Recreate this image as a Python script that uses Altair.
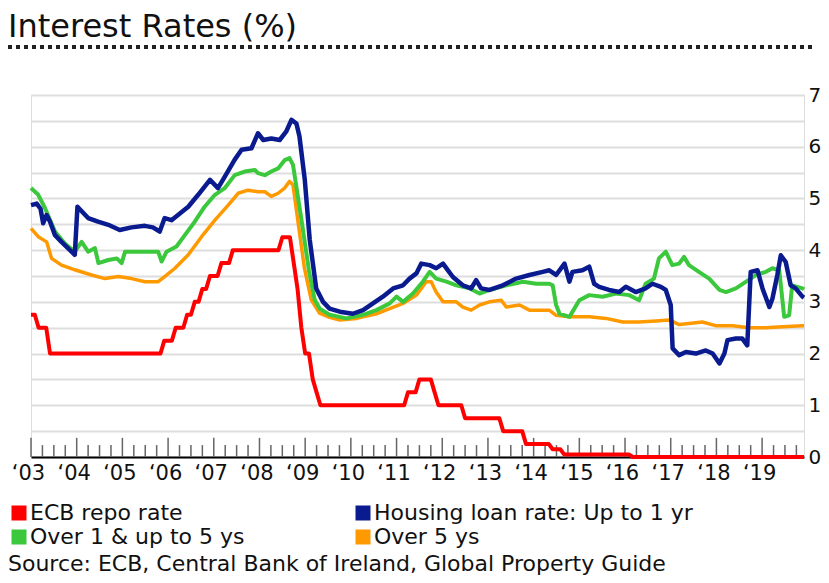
import altair as alt
import pandas as pd

FONT = "DejaVu Sans"

title_text = "Interest Rates (%)"
source_text = "Source: ECB, Central Bank of Ireland, Global Property Guide"

series_names = ["ECB repo rate", "Housing loan rate: Up to 1 yr",
                "Over 1 & up to 5 ys", "Over 5 ys"]
series_colors = ["#ff0000", "#0a1a8f", "#3cc83c", "#ff9900"]

first_year = 2003
last_month = 203          # months since Jan 2003 (Dec 2019)

# ---- ECB repo rate (months since Jan 2003, %) ----
ecb_month = [0, 1, 2, 4, 5, 34, 35, 37, 38, 40, 41, 42, 43, 44, 45, 46, 47, 49, 50, 52,
             53, 65, 66, 68, 69, 70, 71, 72, 73, 74, 75, 76, 98, 99, 101, 102, 105, 106,
             107, 113, 114, 123, 124, 129, 130, 136, 137, 139, 140, 157, 158, 203]
ecb_rate = [2.75, 2.75, 2.5, 2.5, 2.0, 2.0, 2.25, 2.25, 2.5, 2.5, 2.75, 2.75, 3.0, 3.0,
            3.25, 3.25, 3.5, 3.5, 3.75, 3.75, 4.0, 4.0, 4.25, 4.25, 3.75, 3.25, 2.5, 2.0,
            2.0, 1.5, 1.25, 1.0, 1.0, 1.25, 1.25, 1.5, 1.5, 1.25, 1.0, 1.0, 0.75, 0.75,
            0.5, 0.5, 0.25, 0.25, 0.15, 0.15, 0.05, 0.05, 0.0, 0.0]

# ---- Housing loan rate: up to 1 yr ----
short_month = [0, 1.5, 2.5, 3.2, 4.1, 5, 6.3, 8, 11.5, 12.2, 15, 17.6, 20.3, 23.3, 26.4,
               29.9, 32, 33.8, 35.1, 36.9, 38.6, 41.3, 43.9, 47, 49.1, 50.9, 53.5, 55.3,
               57.9, 59.6, 61, 63.1, 65.3, 67, 68.4, 69.7, 70.5, 71.9, 73.2, 74.9, 76.7,
               78.4, 81.1, 84.5, 87.2, 89.8, 92.4, 95.1, 97.7, 99.4, 101.2, 102.5, 104.7,
               106.4, 108.2, 109.5, 110.8, 113.4, 115.6, 116.9, 118.2, 120.4, 123.9, 127.4,
               130.9, 134.4, 136.1, 137.9, 140.1, 141.4, 142.2, 144.8, 146.6, 147.9, 149.2,
               151.8, 154.5, 156.2, 158.8, 161.4, 163.2, 165.4, 166.7, 168, 168.5, 170.2,
               172, 174.6, 177.2, 179, 180.8, 182.1, 182.9, 185.1, 186.8, 188.1, 189,
               190.8, 192.1, 193.9, 194.7, 196, 196.9, 198.2, 199.5, 200.8, 202.6, 203]
short_rate = [4.87, 4.9, 4.8, 4.52, 4.68, 4.55, 4.29, 4.16, 3.91, 4.84, 4.62, 4.55, 4.49,
              4.39, 4.44, 4.47, 4.44, 4.36, 4.62, 4.58, 4.68, 4.84, 5.07, 5.36, 5.2, 5.42,
              5.75, 5.94, 5.97, 6.26, 6.13, 6.16, 6.13, 6.29, 6.52, 6.45, 6.2, 5.36, 4.2,
              3.26, 3.0, 2.87, 2.81, 2.77, 2.84, 2.97, 3.1, 3.26, 3.32, 3.45, 3.55, 3.74,
              3.71, 3.65, 3.74, 3.61, 3.48, 3.32, 3.26, 3.42, 3.26, 3.23, 3.32, 3.45, 3.52,
              3.58, 3.61, 3.52, 3.74, 3.39, 3.58, 3.61, 3.68, 3.35, 3.29, 3.23, 3.19, 3.29,
              3.19, 3.26, 3.35, 3.29, 3.23, 2.94, 2.1, 1.97, 2.03, 2.0, 2.06, 2.0, 1.81,
              2.0, 2.26, 2.29, 2.29, 2.16, 3.58, 3.61, 3.26, 2.9, 3.06, 3.52, 3.9, 3.77,
              3.32, 3.26, 3.1, 3.08]

# ---- Over 1 & up to 5 yrs ----
mid_month = [0, 1.9, 3.7, 6.3, 8.9, 11.5, 13.3, 15, 16.8, 17.7, 20.3, 22.5, 23.8, 24.7,
             28.2, 31.7, 33.4, 34.3, 35.6, 38.2, 40.4, 43, 45.6, 48.3, 50.9, 53.5, 56.1,
             58.8, 59.6, 61.4, 63.1, 64.9, 66.6, 67.9, 68.8, 71, 73, 74.5, 75.8, 78.4,
             82.8, 87.2, 90.7, 94.2, 96, 97.7, 100.3, 102.9, 104.7, 106.4, 109.1, 111.7,
             115.2, 117.8, 120.4, 124.8, 129.2, 132.7, 136.1, 137, 137.9, 138.8, 141.4,
             144, 146.6, 150.1, 153.6, 157.1, 159.7, 161.4, 163.6, 164.9, 166.7, 168.4,
             170.2, 171.5, 172.8, 175.4, 178.1, 180.8, 182.5, 185.1, 187.8, 190.4, 193,
             194.7, 196.5, 197.8, 199.1, 199.9, 202.6, 203]
mid_rate = [5.2, 5.07, 4.81, 4.36, 4.13, 3.97, 4.16, 3.97, 4.04, 3.75, 3.81, 3.84, 3.75,
            3.97, 3.97, 3.97, 3.97, 3.78, 3.97, 4.07, 4.29, 4.55, 4.84, 5.07, 5.2, 5.45,
            5.52, 5.55, 5.49, 5.45, 5.52, 5.58, 5.74, 5.78, 5.65, 4.6, 3.6, 3.04, 2.87,
            2.75, 2.68, 2.75, 2.84, 2.97, 3.1, 3.0, 3.16, 3.39, 3.58, 3.45, 3.39, 3.32,
            3.26, 3.16, 3.23, 3.32, 3.39, 3.35, 3.35, 3.32, 2.94, 2.77, 2.71, 3.03, 3.13,
            3.1, 3.16, 3.13, 3.03, 3.35, 3.45, 3.84, 3.97, 3.71, 3.74, 3.87, 3.71, 3.58,
            3.45, 3.23, 3.19, 3.26, 3.39, 3.52, 3.58, 3.65, 3.61, 2.71, 2.74, 3.32, 3.26,
            3.24]

# ---- Over 5 yrs ----
long_month = [0, 1.9, 4.1, 5.4, 8, 11.5, 15.9, 19.4, 22.9, 26.4, 29.9, 33.4, 35.1, 37.8,
              41.3, 44.8, 48.3, 51.8, 54.4, 57, 59.6, 61.4, 63.1, 64.9, 66.6, 67.9, 68.8,
              71.8, 73.6, 75.8, 78.4, 81.1, 85.5, 90.7, 94.2, 97.7, 101.2, 103.8, 105.1,
              106.4, 108.2, 111.7, 113.4, 115.6, 117.8, 120.4, 123.5, 124.8, 128.3, 130.9,
              134.4, 136.1, 137.9, 141.4, 146.6, 151, 155.4, 159.7, 164.1, 167.6, 170.2,
              172.8, 176.3, 179.8, 184.2, 188.6, 193, 197.4, 202.6, 203]
long_rate = [4.42, 4.26, 4.16, 3.84, 3.71, 3.62, 3.52, 3.45, 3.49, 3.45, 3.39, 3.39, 3.49,
             3.65, 3.91, 4.26, 4.58, 4.87, 5.1, 5.16, 5.13, 5.13, 5.04, 5.1, 5.2, 5.33,
             5.26, 3.65, 3.04, 2.78, 2.7, 2.65, 2.68, 2.77, 2.87, 2.97, 3.13, 3.39, 3.39,
             3.19, 3.0, 3.0, 2.9, 2.84, 2.94, 3.0, 3.03, 2.9, 2.94, 2.84, 2.84, 2.84, 2.74,
             2.71, 2.71, 2.68, 2.61, 2.61, 2.63, 2.65, 2.56, 2.58, 2.61, 2.54, 2.54, 2.5,
             2.5, 2.52, 2.54, 2.54]

y_ticks = [i * 0.5 for i in range(15)]
year_months = list(range(0, last_month + 1, 12))
quarter_months = list(range(0, last_month + 1, 3))


def frame(name, months, rates):
    return pd.DataFrame({"month": months, "rate": rates, "series": name})


W, H = 773, 362

x_scale = alt.Scale(domain=[0, last_month], nice=False, zero=False)
y_scale = alt.Scale(domain=[0, 7], nice=False, zero=True)
color_scale = alt.Scale(domain=series_names, range=series_colors)

x_axis = alt.Axis(
    values=year_months,
    labelExpr="'\u2018' + substring(toString(%d + datum.value / 12), 2)" % first_year,
    ticks=False, grid=False, domain=True, domainColor="#000000", domainWidth=2,
    labelFont=FONT, labelFontSize=21, labelColor="#111111", labelPadding=5,
    labelOverlap=False, labelFlush=False, labelOffset=-3, title=None)

y_axis = alt.Axis(
    orient="right", values=y_ticks,
    labelExpr="datum.value % 1 === 0 ? datum.label : ''",
    ticks=False, tickSize=0, domain=False, grid=True, gridColor="#dedede",
    gridWidth=2, labelFont=FONT, labelFontSize=20, labelColor="#111111",
    labelPadding=4, labelOverlap=False, title=None)

legend = alt.Legend(
    orient="none", legendX=-23, legendY=407, columns=2, direction="horizontal",
    columnPadding=107, rowPadding=2, clipHeight=22, symbolType="square",
    symbolSize=49, symbolStrokeWidth=8, labelFont=FONT, labelFontSize=22,
    labelColor="#111111", labelBaseline="middle", labelOffset=0, labelLimit=0,
    title=None)

# quarterly tick marks pointing up from the baseline
tick_df = pd.DataFrame({"month": quarter_months})
tick_df["base"] = 0.0
tick_df["top"] = [0.37 if m % 12 == 0 else 0.23 for m in quarter_months]

ticks = alt.Chart(tick_df).mark_rule(color="#666666", strokeWidth=1.5).encode(
    x=alt.X("month:Q", scale=x_scale, axis=x_axis),
    y=alt.Y("base:Q", scale=y_scale, axis=y_axis),
    y2="top:Q")


def line_layer(df, width):
    return alt.Chart(df).mark_line(strokeWidth=width, strokeJoin="round").encode(
        x=alt.X("month:Q", scale=x_scale, axis=x_axis),
        y=alt.Y("rate:Q", scale=y_scale, axis=y_axis),
        color=alt.Color("series:N", scale=color_scale, legend=legend))


orange = line_layer(frame(series_names[3], long_month, long_rate), 3.5)
green = line_layer(frame(series_names[2], mid_month, mid_rate), 4)
blue = line_layer(frame(series_names[1], short_month, short_rate), 4.5)
red = line_layer(frame(series_names[0], ecb_month, ecb_rate), 4)

title = alt.Chart(pd.DataFrame({"t": [title_text]})).mark_text(
    align="left", baseline="alphabetic", font=FONT, fontSize=32, color="#111111"
).encode(text="t:N", x=alt.value(-23), y=alt.value(-58))

dots = alt.Chart(pd.DataFrame({"a": [0]})).mark_rule(
    strokeDash=[4, 4], strokeWidth=4, color="#222222"
).encode(x=alt.value(-23), x2=alt.value(783), y=alt.value(-48))

source = alt.Chart(pd.DataFrame({"t": [source_text]})).mark_text(
    align="left", baseline="alphabetic", font=FONT, fontSize=22, color="#111111"
).encode(text="t:N", x=alt.value(-23), y=alt.value(476))

chart = alt.layer(ticks, orange, green, blue, red, title, dots, source).properties(
    width=W, height=H,
    autosize=alt.AutoSizeParams(type="none"),
    padding={"left": 23, "top": 87, "right": 17, "bottom": 118},
).configure_view(stroke=None).configure(background="white")

chart.save("out.html", embed_options={"renderer": "svg", "actions": False})
